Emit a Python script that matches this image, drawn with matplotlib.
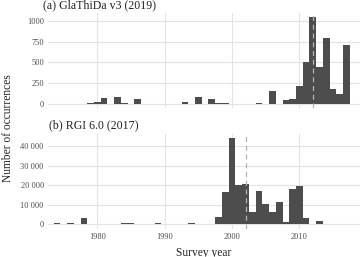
import matplotlib
matplotlib.use("Agg")
import matplotlib.pyplot as plt
from matplotlib.ticker import FuncFormatter

plt.rcParams['font.family'] = ['Liberation Serif', 'DejaVu Serif']

years_a = list(range(1974, 2018))
counts_a = [4, 5, 4, 6, 0, 10, 30, 70, 0, 90, 15, 0, 55, 0, 6, 6, 4, 0, 0, 30,
            0, 85, 0, 65, 10, 10, 0, 6, 6, 6, 10, 6, 160, 5, 45, 65, 215, 510,
            1045, 445, 800, 175, 125, 710]
years_b = list(range(1974, 2014))
counts_b = [450, 350, 500, 0, 3400, 150, 0, 250, 0, 350, 700, 600, 0, 350, 350,
            600, 150, 150, 0, 0, 450, 0, 0, 0, 3700, 16700, 44200, 20000, 20400,
            6100, 17000, 10400, 6100, 11200, 1400, 18200, 19500, 3400, 0, 1700]
title_a = "(a) GlaThiDa v3 (2019)"
title_b = "(b) RGI 6.0 (2017)"
ref_a = 2012
ref_b = 2002
yticks_a = [0, 250, 500, 750, 1000]
yticks_b = [0, 10000, 20000, 30000, 40000]
xticks = [1980, 1990, 2000, 2010]

W, H = 362, 257
fig = plt.figure(figsize=(W / 100, H / 100), dpi=100)

def ax_rect(left, top, right, bottom):
    return [left / W, 1 - bottom / H, (right - left) / W, (bottom - top) / H]

ax1 = fig.add_axes(ax_rect(48, 13, 360, 108))
ax2 = fig.add_axes(ax_rect(48, 133.5, 360, 228.6))

bar_color = '#4d4d4d'
grid_color = '#e3e3e3'

def fmt(v, pos):
    v = int(round(v))
    if v >= 10000:
        return f"{v:,}".replace(",", " ")
    return str(v)

for ax, yrs, cnts, ref, yt, ylim in [
        (ax1, years_a, counts_a, ref_a, yticks_a, (-48, 1096)),
        (ax2, years_b, counts_b, ref_b, yticks_b, (-2197, 46390))]:
    ax.bar(yrs, cnts, width=1.0, color=bar_color, linewidth=0, zorder=2)
    ax.axvline(ref, color='#b3b3b3', linestyle=(0, (4, 3)), linewidth=0.9, zorder=3)
    ax.set_xlim(1972.67, 2019.0)
    ax.set_ylim(*ylim)
    ax.set_yticks(yt)
    ax.set_xticks(xticks)
    ax.yaxis.set_major_formatter(FuncFormatter(fmt))
    ax.grid(True, color=grid_color, linewidth=0.8, zorder=0)
    ax.set_axisbelow(True)
    for s in ax.spines.values():
        s.set_visible(False)
    ax.tick_params(length=0, labelsize=6, labelcolor='#4d4d4d', pad=3)

ax1.tick_params(labelbottom=False)

fig.text(43 / W, 1 - 5 / H, title_a, fontsize=8.6, ha='left', va='center', color='#222222')
fig.text(49 / W, 1 - 125.5 / H, title_b, fontsize=8.6, ha='left', va='center', color='#222222')
fig.text(204 / W, 1 - 253 / H, "Survey year", fontsize=8.3, ha='center', va='center', color='#222222')
fig.text(8 / W, 1 - 128 / H, "Number of occurrences", fontsize=8.3, ha='center', va='center',
         rotation=90, color='#222222')

fig.savefig("out.png", dpi=100)
